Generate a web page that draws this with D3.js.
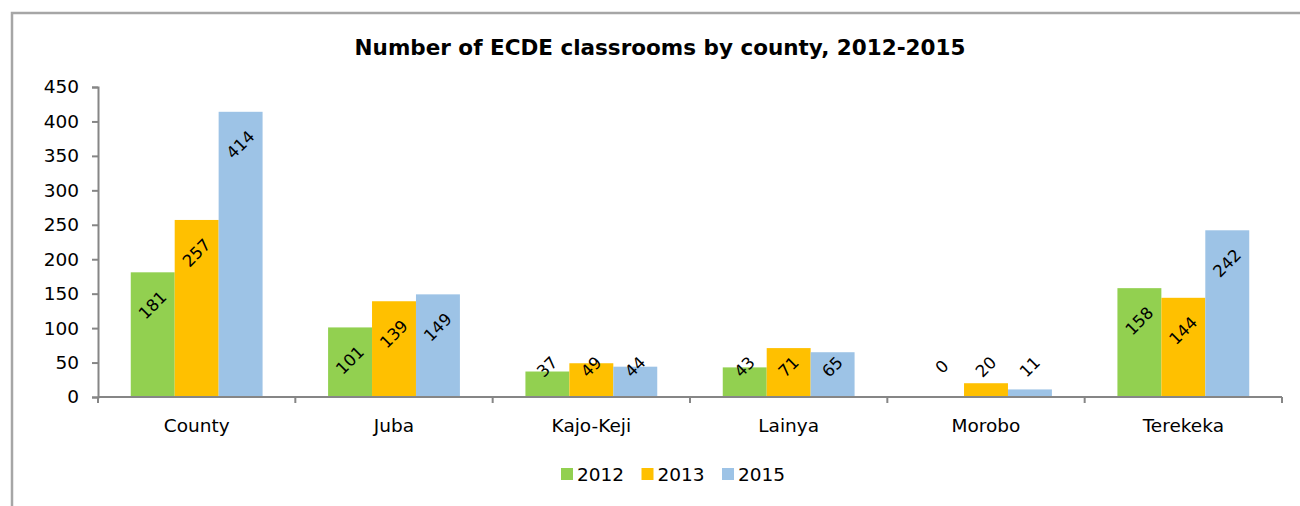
<!DOCTYPE html>
<html>
<head>
<meta charset="utf-8">
<script src="https://cdn.jsdelivr.net/npm/d3@7"></script>
<style>
  body { margin: 0; background: #fff; }
  svg { display: block; font-family: "DejaVu Sans", sans-serif; }
</style>
</head>
<body>
<svg id="chart"></svg>
<script>
const categories = ["County", "Juba", "Kajo-Keji", "Lainya", "Morobo", "Terekeka"];
const seriesNames = ["2012", "2013", "2015"];
const values2012 = [181, 101, 37, 43, 0, 158];
const values2013 = [257, 139, 49, 71, 20, 144];
const values2015 = [414, 149, 44, 65, 11, 242];
const yTicks = [0, 50, 100, 150, 200, 250, 300, 350, 400, 450];
const colors = ["#92d050", "#ffc000", "#9dc3e6"];

const width = 1300;
const height = 506;
const margin = { top: 87, right: 18, bottom: 109, left: 98 };

const svg = d3.select("#chart")
    .attr("width", width)
    .attr("height", height);

// outer frame (only top and left visible)
svg.append("path")
    .attr("d", `M12,${height} L12,13 L${width},13`)
    .attr("fill", "none")
    .attr("stroke", "#a6a6a6")
    .attr("stroke-width", 2.5);

svg.append("text")
    .attr("x", 660)
    .attr("y", 55)
    .attr("text-anchor", "middle")
    .attr("font-weight", "bold")
    .attr("font-size", 21.5)
    .text("Number of ECDE classrooms by county, 2012-2015");

const x0 = d3.scaleBand()
    .domain(categories)
    .range([margin.left, width - margin.right])
    .padding(0);

const x1 = d3.scaleBand()
    .domain(seriesNames)
    .range([x0.bandwidth() * 0.166, x0.bandwidth() * 0.834])
    .padding(0);

const y = d3.scaleLinear()
    .domain([0, 450])
    .range([397, margin.top]);

const table = categories.map((c, i) => ({
    category: c,
    values: [values2012[i], values2013[i], values2015[i]]
}));

// bars
const groups = svg.selectAll(".group")
    .data(table)
    .enter()
    .append("g")
    .attr("class", "group")
    .attr("transform", d => `translate(${x0(d.category)},0)`);

groups.selectAll("rect")
    .data(d => d.values.map((v, j) => ({ key: seriesNames[j], value: v, color: colors[j] })))
    .enter()
    .append("rect")
    .attr("x", d => x1(d.key))
    .attr("y", d => y(d.value))
    .attr("width", x1.bandwidth())
    .attr("height", d => y(0) - y(d.value))
    .attr("fill", d => d.color);

// data labels, rotated
groups.selectAll(".lbl")
    .data(d => d.values.map((v, j) => ({ key: seriesNames[j], value: v })))
    .enter()
    .append("text")
    .attr("class", "lbl")
    .attr("transform", d => {
        const cx = x1(d.key) + x1.bandwidth() / 2;
        const cy = Math.min(y(d.value) + 33, y(0) - 30);
        return `translate(${cx},${cy}) rotate(-45)`;
    })
    .attr("text-anchor", "middle")
    .attr("dominant-baseline", "central")
    .attr("font-size", 16.5)
    .attr("fill", "#000")
    .text(d => d.value);

// y axis
const yAxis = d3.axisLeft(y)
    .tickValues(yTicks)
    .tickSize(6)
    .tickPadding(13);

const gy = svg.append("g")
    .attr("transform", `translate(${margin.left},0)`)
    .call(yAxis);
gy.select(".domain").attr("stroke", "#868686").attr("stroke-width", 2);
gy.selectAll(".tick line").attr("stroke", "#868686").attr("stroke-width", 2);
gy.selectAll(".tick text").attr("font-size", 18.5).attr("fill", "#000")
    .attr("font-family", "DejaVu Sans, sans-serif");

// x axis: ticks at category boundaries
const gx = svg.append("g")
    .attr("transform", `translate(0,${y(0)})`);
gx.append("line")
    .attr("x1", margin.left)
    .attr("x2", width - margin.right)
    .attr("stroke", "#868686")
    .attr("stroke-width", 2);
gx.selectAll(".xt")
    .data(categories.concat([null]))
    .enter()
    .append("line")
    .attr("x1", (d, i) => i < categories.length ? x0(d) : x0.range()[1])
    .attr("x2", (d, i) => i < categories.length ? x0(d) : x0.range()[1])
    .attr("y1", 0)
    .attr("y2", 6)
    .attr("stroke", "#868686")
    .attr("stroke-width", 2);
gx.selectAll(".xl")
    .data(categories)
    .enter()
    .append("text")
    .attr("x", d => x0(d) + x0.bandwidth() / 2)
    .attr("y", 35)
    .attr("text-anchor", "middle")
    .attr("font-size", 18.5)
    .text(d => d);

// legend
const legend = svg.append("g")
    .attr("transform", "translate(561,474)");
const items = legend.selectAll(".item")
    .data(seriesNames)
    .enter()
    .append("g")
    .attr("transform", (d, i) => `translate(${i * 80.5},0)`);
items.append("rect")
    .attr("x", 0)
    .attr("y", -6)
    .attr("width", 12)
    .attr("height", 12)
    .attr("fill", (d, i) => colors[i]);
items.append("text")
    .attr("x", 16)
    .attr("y", 0)
    .attr("dominant-baseline", "central")
    .attr("font-size", 18.5)
    .text(d => d);
</script>
</body>
</html>
